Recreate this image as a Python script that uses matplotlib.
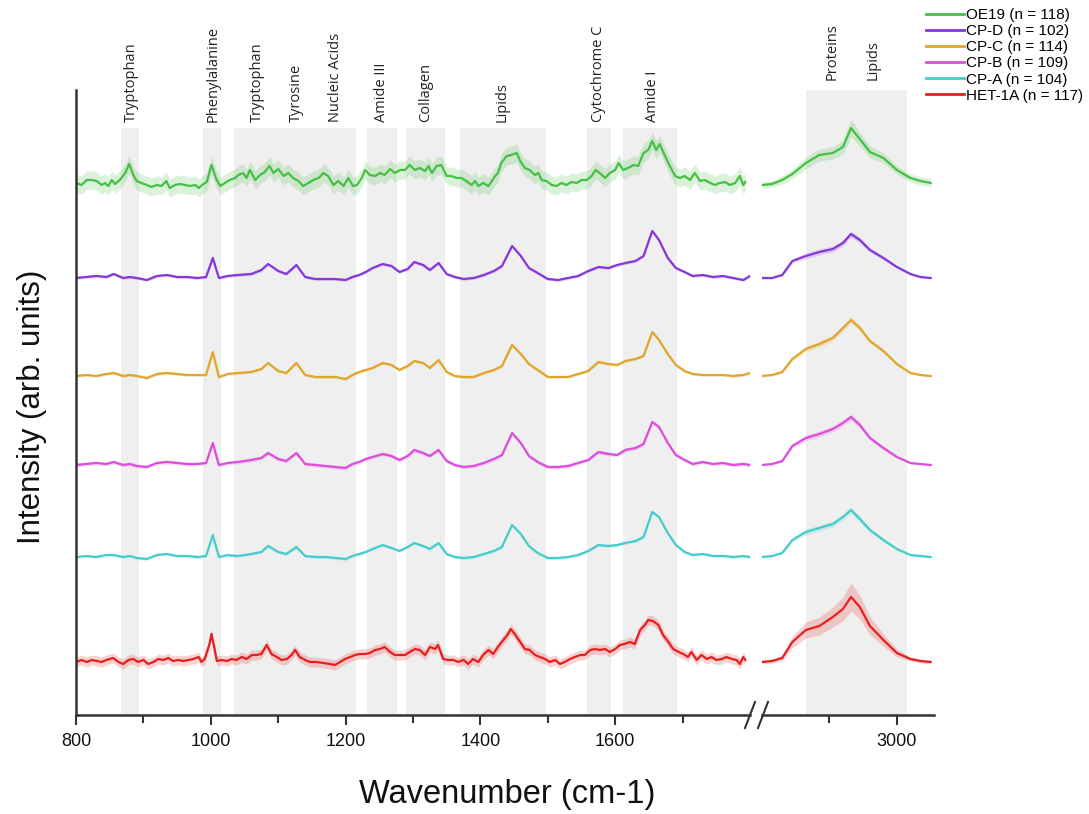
import numpy as np
import matplotlib
matplotlib.use("Agg")
import matplotlib.pyplot as plt
from matplotlib.lines import Line2D

# ---- data (arb. units) ----
groups = ["OE19 (n = 118)", "CP-D (n = 102)", "CP-C (n = 114)",
          "CP-B (n = 109)", "CP-A (n = 104)", "HET-1A (n = 117)"]
colors = ["#45c045", "#8636dc", "#e0a52a", "#dc4ddc", "#45cccc", "#e81e1e"]
offsets = [479, 384, 286, 197, 105, 0]

# shared grid for the CP series
wn_low = [800, 815, 830, 845, 856, 870, 880, 890, 905, 920, 935, 950, 965, 980,
          993, 1003, 1012, 1025, 1040, 1060, 1075, 1085, 1100, 1112, 1127, 1140,
          1155, 1170, 1185, 1200, 1210, 1220, 1230, 1240, 1255, 1268, 1280, 1292,
          1302, 1315, 1325, 1338, 1350, 1362, 1375, 1390, 1405, 1420, 1432, 1447,
          1460, 1472, 1485, 1500, 1515, 1530, 1545, 1560, 1575, 1590, 1603, 1615,
          1630, 1642, 1655, 1665, 1678, 1690, 1703, 1715, 1730, 1745, 1760, 1775,
          1790, 1800]
cpd_low = [0, 1, 2, 1, 4, 0, 1, 0, -2, 2, 3, 1, 1, 0, 1, 20, 0, 2, 3, 4, 8, 14, 7, 4,
           13, 1, -1, -1, -1, -2, 1, 3, 6, 10, 14, 12, 6, 9, 16, 13, 8, 15, 4, 1, -1,
           0, 3, 7, 12, 32, 22, 10, 5, -1, -2, 0, 2, 7, 11, 10, 13, 15, 17, 22, 47,
           38, 20, 10, 6, 2, 3, 1, 2, 0, -2, 2]
cpc_low = [0, 1, 0, 2, 3, 0, 1, 0, -2, 2, 3, 2, 1, 1, 1, 24, -1, 2, 3, 4, 7, 13, 5, 3,
           13, 1, -1, -1, -1, -3, 1, 4, 6, 8, 13, 11, 6, 10, 15, 13, 8, 16, 4, 0, -1,
           -1, 3, 6, 10, 31, 22, 12, 6, -1, -1, -1, 2, 5, 14, 12, 11, 15, 17, 20, 44,
           36, 22, 11, 5, 2, 1, 1, 1, 0, 1, 3]
cpb_low = [0, 1, 2, 1, 3, 0, 1, -1, -2, 2, 3, 2, 1, 1, 2, 22, 0, 2, 3, 5, 7, 12, 6, 4,
           12, 1, 0, -1, -2, -3, 1, 3, 6, 8, 11, 9, 5, 9, 15, 12, 9, 15, 4, 0, -2, -1,
           2, 6, 10, 32, 22, 9, 3, -2, -2, -1, 2, 5, 13, 11, 10, 15, 17, 21, 43, 38,
           22, 10, 5, 1, 3, 1, 2, 0, 1, 0]
cpa_low = [0, 1, 0, 2, 2, 0, 1, -1, -2, 2, 3, 1, 1, 0, 1, 22, 0, 2, 1, 3, 5, 11, 5, 3,
           10, 1, 0, 0, -1, -2, 1, 3, 5, 8, 12, 9, 6, 10, 14, 11, 8, 14, 3, 0, -1, 0,
           3, 6, 10, 32, 23, 11, 4, -1, -1, 0, 2, 6, 12, 11, 12, 14, 16, 20, 45, 40,
           24, 12, 5, 2, 3, 1, 1, 0, 1, 0]

# OE19 and HET-1A are noisier, read on a finer grid
wn_oe19 = [801, 808, 816, 823, 831, 838, 843, 848, 853, 858, 865, 873, 879, 885, 890,
           897, 905, 912, 920, 927, 934, 939, 947, 954, 962, 969, 977, 982, 989, 994,
           1001, 1008, 1014, 1021, 1028, 1036, 1041, 1048, 1053, 1058, 1066, 1073,
           1080, 1087, 1093, 1100, 1108, 1115, 1122, 1130, 1137, 1145, 1152, 1160,
           1167, 1174, 1182, 1189, 1197, 1204, 1211, 1217, 1224, 1229, 1236, 1244,
           1251, 1258, 1266, 1273, 1281, 1288, 1295, 1303, 1310, 1318, 1323, 1328,
           1335, 1342, 1350, 1357, 1365, 1372, 1379, 1387, 1392, 1397, 1404, 1412,
           1417, 1422, 1426, 1431, 1439, 1446, 1454, 1459, 1466, 1473, 1481, 1486,
           1491, 1498, 1506, 1513, 1520, 1528, 1535, 1543, 1550, 1558, 1565, 1571,
           1577, 1585, 1592, 1600, 1605, 1612, 1619, 1627, 1634, 1642, 1649, 1655,
           1661, 1666, 1674, 1681, 1689, 1696, 1703, 1711, 1718, 1726, 1733, 1741,
           1748, 1755, 1763, 1770, 1778, 1785, 1790, 1793]
oe19_low = [0, -2, 3, 3, 2, -2, 0, -3, 3, -1, 3, 10, 19, 8, 2, 0, -2, -4, -2, -3, 2,
            -5, -2, -1, -2, -3, -2, -5, -1, 1, 18, 4, -3, 0, 3, 5, 8, 10, 5, 13, 3, 8,
            11, 17, 10, 14, 7, 10, 5, 2, -3, 0, 3, 5, 10, 7, -2, 2, -3, 5, -3, -2, 5,
            13, 8, 7, 10, 8, 14, 10, 13, 13, 18, 13, 15, 12, 17, 10, 17, 18, 7, 7, 5,
            5, 2, -2, 2, -3, 0, -3, 2, 7, 10, 20, 27, 28, 30, 22, 15, 13, 8, 10, 3, 2,
            -2, -3, 0, -2, 1, 0, 3, 3, 7, 13, 10, 5, 10, 13, 20, 13, 15, 18, 17, 30,
            33, 42, 33, 39, 27, 17, 7, 5, 7, 3, 10, 2, 3, 0, -2, 0, 1, -2, 0, 7, -2, 1]

wn_het = [801, 808, 816, 823, 831, 838, 845, 855, 863, 870, 878, 885, 892, 900, 907,
          915, 922, 930, 937, 944, 952, 959, 967, 974, 982, 986, 991, 998, 1001, 1005,
          1009, 1016, 1024, 1031, 1038, 1046, 1053, 1061, 1068, 1075, 1083, 1090,
          1098, 1105, 1113, 1120, 1125, 1132, 1140, 1147, 1157, 1167, 1177, 1184,
          1192, 1199, 1207, 1214, 1221, 1229, 1236, 1244, 1251, 1258, 1266, 1273,
          1281, 1288, 1295, 1303, 1310, 1318, 1325, 1333, 1337, 1345, 1352, 1360,
          1367, 1375, 1382, 1389, 1397, 1404, 1412, 1419, 1426, 1434, 1441, 1445,
          1451, 1459, 1466, 1473, 1481, 1488, 1496, 1503, 1511, 1518, 1525, 1533,
          1540, 1548, 1555, 1563, 1570, 1577, 1585, 1592, 1600, 1607, 1614, 1622,
          1629, 1637, 1644, 1649, 1656, 1664, 1671, 1679, 1686, 1694, 1701, 1708,
          1713, 1721, 1728, 1736, 1743, 1750, 1758, 1765, 1773, 1780, 1785, 1790,
          1793]
het_low = [0, 2, 0, 2, 1, 0, 2, 4, 0, -2, 2, 3, 0, 2, -2, 0, 3, 2, 4, 1, 2, 1, 2, 3,
           5, 0, 3, 18, 28, 15, 1, 2, 1, 3, 2, 5, 3, 7, 7, 8, 17, 8, 5, 2, 3, 7, 12,
           5, 2, 0, 0, -1, -2, -3, 0, 3, 5, 7, 8, 8, 9, 12, 13, 15, 10, 7, 7, 7, 10,
           13, 12, 7, 15, 13, 17, 3, 2, 2, 0, 2, -2, 3, 0, 7, 12, 8, 15, 22, 28, 33,
           28, 20, 13, 12, 7, 5, 3, 0, 2, -2, 0, 3, 5, 7, 7, 12, 13, 12, 13, 10, 13,
           17, 18, 20, 18, 32, 37, 42, 41, 37, 27, 20, 13, 10, 8, 5, 10, 2, 7, 3, 5,
           2, 3, 5, 3, 2, -2, 5, 2]

low_x = [wn_oe19, wn_low, wn_low, wn_low, wn_low, wn_het]
low_series = [oe19_low, cpd_low, cpc_low, cpb_low, cpa_low, het_low]
sd_low = [9, 1.5, 1.5, 2, 1.5, 5]

wn_high = [2800, 2815, 2830, 2845, 2865, 2885, 2905, 2920, 2932, 2945, 2960, 2980,
           3000, 3020, 3035, 3050]
oe19_high = [-2, -1, 3, 9, 20, 28, 30, 36, 55, 44, 31, 25, 13, 5, 2, 0]
cpd_high = [0, 0, 3, 17, 22, 26, 29, 35, 44, 38, 28, 20, 11, 4, 1, 0]
cpc_high = [0, 1, 4, 17, 27, 32, 38, 48, 56, 48, 35, 25, 12, 3, 1, 0]
cpb_high = [0, 1, 4, 19, 27, 31, 36, 42, 48, 40, 27, 17, 8, 2, 1, 0]
cpa_high = [0, 1, 4, 17, 25, 29, 33, 40, 47, 38, 27, 17, 8, 2, 1, 0]
het_high = [0, 1, 4, 20, 32, 36, 45, 53, 65, 55, 36, 22, 9, 3, 1, 0]
oe19_sd_high = [3, 3, 4, 5, 6, 6, 6, 7, 9, 7, 6, 5, 4, 4, 4, 4]
het_sd_high = [2, 2, 3, 6, 8, 9, 10, 12, 14, 12, 9, 6, 4, 2, 2, 2]
cp_sd_high = [1, 1, 1, 2, 3, 3, 3, 3, 3, 3, 2, 2, 1, 1, 1, 1]

high_series = [oe19_high, cpd_high, cpc_high, cpb_high, cpa_high, het_high]
high_sd = [oe19_sd_high, cp_sd_high, cp_sd_high, cp_sd_high, cp_sd_high, het_sd_high]

band_names = ["Tryptophan", "Phenylalanine", "Tryptophan", "Tyrosine", "Nucleic Acids",
              "Amide III", "Collagen", "Lipids", "Cytochrome C", "Amide I"]
band_pos = [882, 1003, 1069, 1127, 1185, 1254, 1319, 1432, 1575, 1656]
band_spans = [(867, 893), (988, 1015), (1034, 1215), (1232, 1276), (1290, 1347),
              (1370, 1498), (1558, 1594), (1612, 1692)]
high_names = ["Proteins", "Lipids"]
high_pos = [2904, 2965]
high_span = (2865, 3015)

W, H = 1089, 814
fig = plt.figure(figsize=(W / 100, H / 100), dpi=100)

def fx(px):
    return px / W

def fy(py):
    return 1 - py / H

y_top, y_bot = 90, 715
ax1 = fig.add_axes([fx(76), fy(y_bot), fx(750 - 76), (y_bot - y_top) / H])
ax2 = fig.add_axes([fx(762), fy(y_bot), fx(934 - 762), (y_bot - y_top) / H])

band_col = "#efefef"
spine_col = "#333333"

ax1.set_xlim(800, 1800)
ax2.set_xlim(2800, 3055)
ax1.set_xticks([800, 1000, 1200, 1400, 1600])
ax1.set_xticks([900, 1100, 1300, 1500, 1700], minor=True)
ax2.set_xticks([3000])
ax2.set_xticks([2900], minor=True)

for ax in (ax1, ax2):
    ax.set_ylim(-53, 572)
    ax.set_yticks([])
    for s in ("top", "right"):
        ax.spines[s].set_visible(False)
    ax.spines["bottom"].set_color(spine_col)
    ax.spines["bottom"].set_linewidth(1.8)
    ax.tick_params(axis="x", which="major", length=7, width=1.5, color=spine_col,
                   labelsize=13, pad=6, labelcolor="#111111")
    ax.tick_params(axis="x", which="minor", length=6, width=1.5, color=spine_col)
    for lab in ax.get_xticklabels():
        lab.set_family("Liberation Sans")
ax1.spines["left"].set_color(spine_col)
ax1.spines["left"].set_linewidth(1.8)
ax2.spines["left"].set_visible(False)

# grey assignment bands
for a, b in band_spans:
    ax1.axvspan(a, b, ymin=0, ymax=0.939, color=band_col, lw=0, zorder=0)
ax2.axvspan(high_span[0], high_span[1], ymin=0, ymax=1.0, color=band_col, lw=0, zorder=0)

for name, x in zip(band_names, band_pos):
    ax1.text(x, 0.949, name, transform=ax1.get_xaxis_transform(), rotation=90,
             ha="center", va="bottom", fontsize=10.5, family="Open Sans", color="#222222")
for name, x in zip(high_names, high_pos):
    ax2.text(x, 1.016, name, transform=ax2.get_xaxis_transform(), rotation=90,
             ha="center", va="bottom", fontsize=10.5, family="Open Sans", color="#222222")

# spectra
xh = np.array(wn_high)
for i in range(len(groups)):
    xl = np.array(low_x[i])
    yl = np.array(low_series[i]) + offsets[i]
    yh = np.array(high_series[i]) + offsets[i]
    sh = np.array(high_sd[i])
    ax1.fill_between(xl, yl - sd_low[i], yl + sd_low[i], color=colors[i], alpha=0.2, lw=0)
    ax1.plot(xl, yl, color=colors[i], lw=1.6)
    ax2.fill_between(xh, yh - sh, yh + sh, color=colors[i], alpha=0.2, lw=0)
    ax2.plot(xh, yh, color=colors[i], lw=1.6)

# axis break marks
for xb in (750, 763):
    fig.add_artist(Line2D([fx(xb - 5), fx(xb + 5)], [fy(y_bot + 13), fy(y_bot - 13)],
                          color=spine_col, lw=1.5))

fig.text(fx(507), fy(794), "Wavenumber (cm-1)", ha="center", va="center",
         fontsize=23.5, family="Liberation Sans", color="#111111")
fig.text(fx(32), fy(407), "Intensity (arb. units)", ha="center", va="center",
         rotation=90, fontsize=22.5, family="Liberation Sans", color="#111111")

handles = [Line2D([], [], color=c, lw=2) for c in colors]
fig.legend(handles, groups, loc="upper left", bbox_to_anchor=(fx(926), fy(8)),
           frameon=False, handlelength=2.5, handletextpad=0.15,
           labelspacing=0.14, borderpad=0, borderaxespad=0,
           prop={"family": "Liberation Sans", "size": 11})

fig.savefig("out.png", dpi=100)
